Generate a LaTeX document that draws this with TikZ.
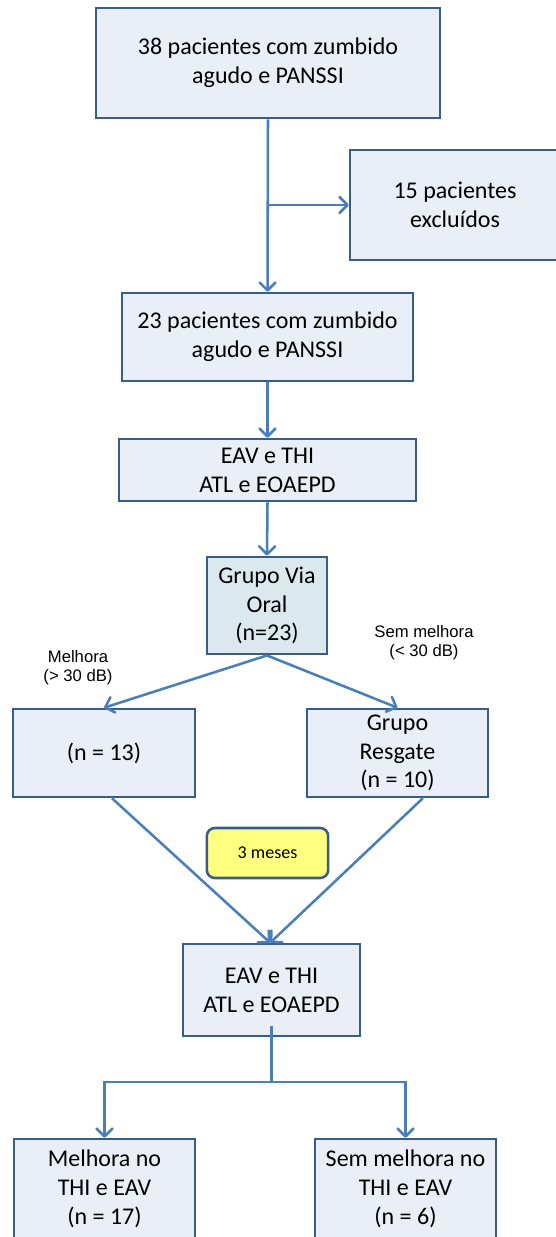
\documentclass[tikz,border=0pt]{standalone}
\usepackage{fontspec}
\setmainfont{Carlito}
\newfontfamily\arialf{Liberation Sans}
\usetikzlibrary{arrows.meta}
\definecolor{linec}{RGB}{74,126,187}
\definecolor{bordc}{RGB}{56,93,138}
\definecolor{boxf}{RGB}{234,239,247}
\definecolor{boxg}{RGB}{219,233,239}
\definecolor{yel}{RGB}{255,255,128}
\begin{document}
\begin{tikzpicture}[x=0.75pt,y=-0.75pt,
  box/.style={draw=bordc,line width=1.9pt,fill=boxf,inner sep=0pt,align=center,
    font=\fontsize{18pt}{21.6pt}\selectfont},
  bluebox/.style={box,fill=boxg},
  yelbox/.style={box,fill=yel,rounded corners=6pt,font=\fontsize{13.5pt}{16pt}\selectfont},
  lbl/.style={align=center,inner sep=0pt,font=\arialf\fontsize{12.5pt}{14.3pt}\selectfont},
  conn/.style={draw=linec,line width=1.9pt},
  arr/.style={conn,-{Straight Barb[length=6pt,width=12pt,line cap=round,line join=round]}}
]
\useasboundingbox (0,0) rectangle (556,1237);
\fill[white] (0,0) rectangle (556,1237);

\node[box,minimum width=258pt,minimum height=82.5pt] (b1) at (268,63) {38 pacientes com zumbido\\agudo e PANSSI};
\node[box,minimum width=157.5pt,minimum height=82.5pt] (b2) at (455,205) {15 pacientes\\excluídos};
\node[box,minimum width=218pt,minimum height=66pt] (b3) at (267.5,337) {23 pacientes com zumbido\\agudo e PANSSI};
\node[box,minimum width=223pt,minimum height=46.5pt] (b4) at (267.5,470) {EAV e THI\\ATL e EOAEPD};
\node[bluebox,minimum width=90pt,minimum height=73pt] (b5) at (267,605.5) {Grupo Via\\Oral\\(n=23)};
\node[box,minimum width=136.5pt,minimum height=66pt] (b6) at (104,753) {(n = 13)};
\node[box,minimum width=136pt,minimum height=66pt] (b7) at (397.5,753) {Grupo\\Resgate\\(n = 10)};
\node[yelbox,minimum width=91pt,minimum height=37.5pt] (b8) at (267.5,853) {3 meses};
\node[box,minimum width=133pt,minimum height=69pt] (b9) at (271.5,990) {EAV e THI\\ATL e EOAEPD};
\node[box,minimum width=136pt,minimum height=75pt] (b10) at (104.5,1189) {Melhora no\\THI e EAV\\(n = 17)};
\node[box,minimum width=136pt,minimum height=75pt] (b11) at (405.5,1189) {Sem melhora no\\THI e EAV\\(n = 6)};

\node[lbl] (l1) at (78,668) {Melhora\\(> 30 dB)};
\node[lbl] (l2) at (424,643) {Sem melhora\\(< 30 dB)};

\draw[arr] (b1.south) -- (b3.north);
\coordinate (ex) at (b1.south |- b2.west);
\draw[arr] (ex) -- (b2.west);
\draw[arr] (b3.south) -- (b4.north);
\draw[arr] (b4.south) -- (b5.north);
\draw[arr] (b5.south) -- (b6.north);
\draw[arr] (b5.south) -- (b7.north);
\draw[arr] ([xshift=6pt]b6.south) -- ([xshift=-1pt]b9.north);
\draw[arr] ([xshift=19pt]b7.south) -- ([xshift=-1pt]b9.north);
\coordinate (jn) at (b9.south |- 0,1082);
\draw[conn] ([yshift=8.25pt]b9.south) -- (jn);
\draw[arr] (jn) -| (b10.north);
\draw[arr] (jn) -| (b11.north);
\end{tikzpicture}
\end{document}
